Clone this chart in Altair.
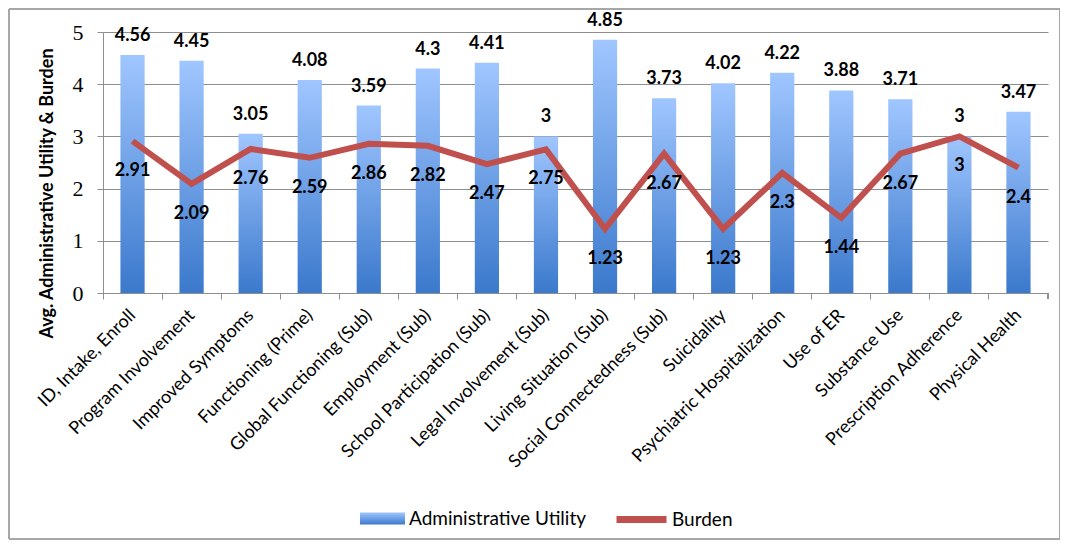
import altair as alt
import pandas as pd

categories = ["ID, Intake, Enroll", "Program Involvement", "Improved Symptoms",
              "Functioning (Prime)", "Global Functioning (Sub)", "Employment (Sub)",
              "School Participation (Sub)", "Legal Involvement (Sub)",
              "Living Situation (Sub)", "Social Connectedness (Sub)", "Suicidality",
              "Psychiatric Hospitalization", "Use of ER", "Substance Use",
              "Prescription Adherence", "Physical Health"]
admin_utility = [4.56, 4.45, 3.05, 4.08, 3.59, 4.3, 4.41, 3, 4.85, 3.73, 4.02, 4.22, 3.88, 3.71, 3, 3.47]
burden = [2.91, 2.09, 2.76, 2.59, 2.86, 2.82, 2.47, 2.75, 1.23, 2.67, 1.23, 2.3, 1.44, 2.67, 3, 2.4]
y_ticks = [0, 1, 2, 3, 4, 5]

df = pd.DataFrame({"cat": categories, "admin": admin_utility, "burden": burden,
                   "s1": "Administrative Utility", "s2": "Burden"})

W, H = 945, 261
FONT = "Lato"
SERIF = "Liberation Serif, Times New Roman, serif"
GRAY = "#8E8E8E"
grad_expr = ("{gradient:'linear',x1:0,y1:0,x2:0,y2:1,"
             "stops:[{offset:0,color:'#A0C6FF'},{offset:1,color:'#3B79CC'}]}")

x_enc = alt.X("cat:N", sort=categories, title=None,
              scale=alt.Scale(paddingInner=0, paddingOuter=0),
              axis=alt.Axis(labelAngle=-45, bandPosition=0, labelLimit=0, labelOffset=-6))
y_scale = alt.Scale(domain=[0, 5], nice=False)
y_axis = alt.Axis(values=y_ticks, grid=True, labelFont=SERIF, labelFontSize=22,
                  title="Avg. Administrative Utility & Burden",
                  titleX=-56, titleY=161, titleAlign="center", titleBaseline="middle",
                  titleAngle=270)

bars = alt.Chart(df).mark_bar(width={"band": 0.41}).encode(
    x=x_enc,
    y=alt.Y("admin:Q", scale=y_scale, axis=y_axis),
    fill=alt.Fill("s1:N", scale=alt.Scale(domain=["Administrative Utility"],
                                          range=[alt.ExprRef(grad_expr)]),
                  legend=alt.Legend(title=None, orient="none", legendX=257, legendY=464,
                                    symbolType="M-1,-0.27L1,-0.27L1,0.27L-1,0.27Z",
                                    symbolSize=2025, symbolStrokeWidth=0, labelLimit=0,
                                    labelFont=FONT, labelFontSize=19, labelColor="#000",
                                    labelOffset=4)),
)

bar_labels = alt.Chart(df).mark_text(dy=-14, baseline="alphabetic", font=FONT,
                                     fontSize=18, fontWeight="bold", color="#000").encode(
    x=alt.X("cat:N", sort=categories),
    y=alt.Y("admin:Q", scale=y_scale),
    text=alt.Text("admin:Q"),
)

line = alt.Chart(df).mark_line(strokeWidth=6, strokeJoin="miter").encode(
    x=alt.X("cat:N", sort=categories),
    y=alt.Y("burden:Q", scale=y_scale),
    stroke=alt.Stroke("s2:N", scale=alt.Scale(domain=["Burden"], range=["#C0504D"]),
                      legend=alt.Legend(title=None, orient="none", legendX=510, legendY=459,
                                        symbolType="stroke", symbolSize=2500,
                                        symbolStrokeWidth=7, labelLimit=0,
                                        labelFont=FONT, labelFontSize=19,
                                        labelColor="#000", labelOffset=2)),
)

burden_labels = alt.Chart(df).mark_text(dy=30, baseline="middle", font=FONT,
                                        fontSize=18, fontWeight="bold", color="#000").encode(
    x=alt.X("cat:N", sort=categories),
    y=alt.Y("burden:Q", scale=y_scale),
    text=alt.Text("burden:Q"),
)

end_tick = alt.Chart(df).mark_rule(color=GRAY).encode(
    x=alt.value(W), y=alt.value(H), y2=alt.value(H + 6))

border = alt.Chart(df).mark_rect(fill=None, stroke="#A6A6A6", strokeWidth=1).encode(
    x=alt.value(-94), x2=alt.value(957), y=alt.value(-23), y2=alt.value(507))

chart = alt.layer(border, bars, line, bar_labels, burden_labels, end_tick).resolve_scale(
    fill="independent", stroke="independent"
).properties(
    width=W, height=H,
    autosize=alt.AutoSizeParams(type="none"),
    padding={"left": 95, "top": 24, "right": 12, "bottom": 247},
).configure_view(stroke=None).configure_axisX(
    labelFont=FONT, labelFontSize=18, labelColor="#000", domainColor=GRAY,
    tickColor=GRAY, tickSize=6, labelPadding=7, grid=False
).configure_axisY(
    gridColor=GRAY, domainColor=GRAY, tickColor=GRAY, tickSize=6,
    labelFont=SERIF, labelFontSize=22, labelColor="#000", labelPadding=14,
    titleFont=FONT, titleFontWeight="bold", titleFontSize=18, titleColor="#000"
)

chart.save("out.html", embed_options={"renderer": "svg", "actions": False})
